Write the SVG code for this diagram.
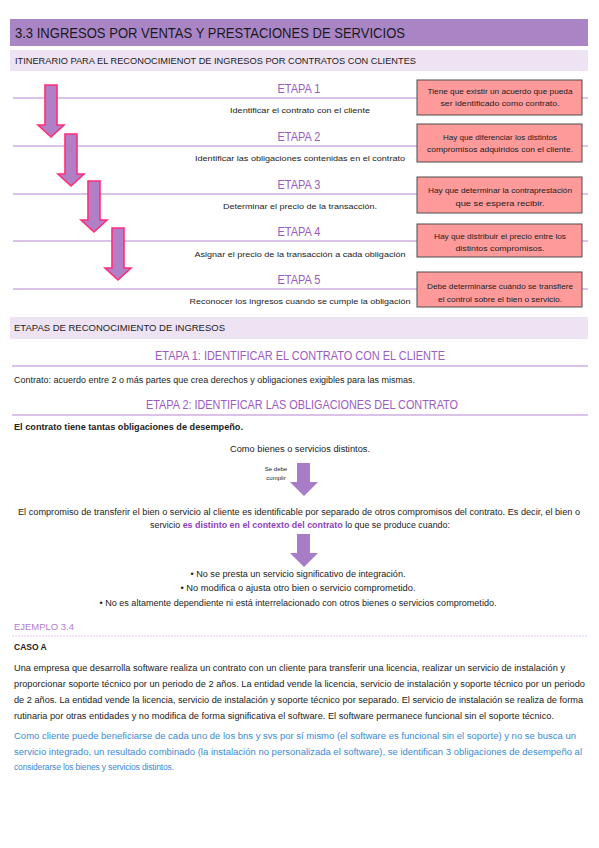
<svg xmlns="http://www.w3.org/2000/svg" width="599" height="848" viewBox="0 0 599 848">
<defs>
<style>
text{font-family:"Liberation Sans",Arial,sans-serif;fill:#222}
.ttl{font-size:15px;fill:#1a1a1a}
.bar{font-size:9px;fill:#222}
.et{font-size:12px;fill:#9a5cbf;text-anchor:middle}
.desc{font-size:8px;text-anchor:middle}
.box rect{fill:#ff9a9a;stroke:#4d4d4d;stroke-width:1}
.box text{font-size:7.5px;text-anchor:middle;fill:#222}
.rule{stroke:#cfaee2;stroke-width:1.5}
.arr{fill:#b07fc6;stroke:#ff2d78;stroke-width:1.6;stroke-linejoin:miter}
.sarr{fill:#a97cc8}
.h2{font-size:12px;fill:#9a5cbf;text-anchor:middle}
.p{font-size:8.5px}
.c{font-size:8.5px;text-anchor:middle}
.b{font-weight:bold}
.blue{fill:#3a8ad4}
</style>
</defs>
<rect width="599" height="848" fill="#ffffff"/>

<!-- Header -->
<g id="header">
<rect x="10" y="19" width="578" height="27" fill="#a985c6"/>
<text class="ttl" x="15" y="38" textLength="390" lengthAdjust="spacingAndGlyphs">3.3 INGRESOS POR VENTAS Y PRESTACIONES DE SERVICIOS</text>
</g>
<g id="subheader">
<rect x="10" y="50" width="578" height="21" fill="#ede3f3"/>
<text class="bar" x="15" y="64" textLength="401" lengthAdjust="spacingAndGlyphs">ITINERARIO PARA EL RECONOCIMIENOT DE INGRESOS POR CONTRATOS CON CLIENTES</text>
</g>

<!-- Stage rules and arrows -->
<g id="connectors">
<line class="rule" x1="13" y1="98" x2="588" y2="98"/>
<line class="rule" x1="13" y1="146" x2="588" y2="146"/>
<line class="rule" x1="13" y1="194" x2="588" y2="194"/>
<line class="rule" x1="13" y1="241" x2="588" y2="241"/>
<line class="rule" x1="13" y1="289" x2="588" y2="289"/>
<path class="arr" d="M45,85 H57 V125 H64 L51,137 L38,125 H45 Z"/>
<path class="arr" d="M65,134 H77 V174 H84 L71,186 L58,174 H65 Z"/>
<path class="arr" d="M88,181 H100 V220 H107 L94,232 L81,220 H88 Z"/>
<path class="arr" d="M112,228 H124 V268 H131 L118,280 L105,268 H112 Z"/>
<path class="sarr" d="M297,463 H310 V482 H318 L304,496 L290,482 H297 Z"/>
<path class="sarr" d="M297,534 H310 V553 H318 L304,567 L290,553 H297 Z"/>
</g>

<g id="etapa1">
<text class="et" x="299" y="93" textLength="43" lengthAdjust="spacingAndGlyphs">ETAPA 1</text>
<text class="desc" x="300" y="113" textLength="140" lengthAdjust="spacingAndGlyphs">Identificar el contrato con el cliente</text>
</g>
<g id="etapa2">
<text class="et" x="299" y="141" textLength="43" lengthAdjust="spacingAndGlyphs">ETAPA 2</text>
<text class="desc" x="300" y="161" textLength="210" lengthAdjust="spacingAndGlyphs">Identificar las obligaciones contenidas en el contrato</text>
</g>
<g id="etapa3">
<text class="et" x="299" y="189" textLength="43" lengthAdjust="spacingAndGlyphs">ETAPA 3</text>
<text class="desc" x="300" y="209" textLength="154" lengthAdjust="spacingAndGlyphs">Determinar el precio de la transacción.</text>
</g>
<g id="etapa4">
<text class="et" x="299" y="236" textLength="43" lengthAdjust="spacingAndGlyphs">ETAPA 4</text>
<text class="desc" x="300" y="257" textLength="211" lengthAdjust="spacingAndGlyphs">Asignar el precio de la transacción a cada obligación</text>
</g>
<g id="etapa5">
<text class="et" x="299" y="284" textLength="43" lengthAdjust="spacingAndGlyphs">ETAPA 5</text>
<text class="desc" x="300" y="304" textLength="221" lengthAdjust="spacingAndGlyphs">Reconocer los ingresos cuando se cumple la obligación</text>
</g>

<g id="box1" class="box">
<rect x="417" y="80" width="165" height="35"/>
<text x="500" y="94" textLength="145" lengthAdjust="spacingAndGlyphs">Tiene que existir un acuerdo que pueda</text>
<text x="500" y="106" textLength="119" lengthAdjust="spacingAndGlyphs">ser identificado como contrato.</text>
</g>
<g id="box2" class="box">
<rect x="417" y="124" width="165" height="38"/>
<text x="500" y="140" textLength="114" lengthAdjust="spacingAndGlyphs">Hay que diferenciar los distintos</text>
<text x="500" y="152" textLength="146" lengthAdjust="spacingAndGlyphs">compromisos adquiridos con el cliente.</text>
</g>
<g id="box3" class="box">
<rect x="417" y="177" width="165" height="36"/>
<text x="500" y="193" textLength="144" lengthAdjust="spacingAndGlyphs">Hay que determinar la contraprestación</text>
<text x="500" y="206" textLength="89" lengthAdjust="spacingAndGlyphs">que se espera recibir.</text>
</g>
<g id="box4" class="box">
<rect x="417" y="224" width="165" height="33"/>
<text x="500" y="239" textLength="132" lengthAdjust="spacingAndGlyphs">Hay que distribuir el precio entre los</text>
<text x="500" y="251" textLength="89" lengthAdjust="spacingAndGlyphs">distintos compromisos.</text>
</g>
<g id="box5" class="box">
<rect x="417" y="272" width="165" height="35"/>
<text x="500" y="289" textLength="146" lengthAdjust="spacingAndGlyphs">Debe determinarse cuándo se transfiere</text>
<text x="500" y="302" textLength="124" lengthAdjust="spacingAndGlyphs">el control sobre el bien o servicio.</text>
</g>

<!-- Section 2 -->
<g id="section2">
<rect x="10" y="317" width="578" height="22" fill="#ede3f3"/>
<text class="bar" x="14" y="331" textLength="211" lengthAdjust="spacingAndGlyphs">ETAPAS DE RECONOCIMIENTO DE INGRESOS</text>
<text class="h2" x="300" y="360" textLength="290" lengthAdjust="spacingAndGlyphs">ETAPA 1: IDENTIFICAR EL CONTRATO CON EL CLIENTE</text>
<line class="rule" x1="12" y1="366" x2="588" y2="366"/>
<text class="p" x="14" y="383" textLength="401" lengthAdjust="spacingAndGlyphs">Contrato: acuerdo entre 2 o más partes que crea derechos y obligaciones exigibles para las mismas.</text>
<text class="h2" x="302" y="409" textLength="312" lengthAdjust="spacingAndGlyphs">ETAPA 2: IDENTIFICAR LAS OBLIGACIONES DEL CONTRATO</text>
<line class="rule" x1="12" y1="415" x2="588" y2="415"/>
<text class="p b" x="14" y="430" textLength="229" lengthAdjust="spacingAndGlyphs">El contrato tiene tantas obligaciones de desempeño.</text>
<text class="c" x="300" y="452" textLength="140" lengthAdjust="spacingAndGlyphs">Como bienes o servicios distintos.</text>
<text x="276" y="471" font-size="6" text-anchor="middle">Se debe</text>
<text x="276" y="480" font-size="6" text-anchor="middle">cumplir</text>
<text class="c" x="299" y="515" textLength="562" lengthAdjust="spacingAndGlyphs">El compromiso de transferir el bien o servicio al cliente es identificable por separado de otros compromisos del contrato. Es decir, el bien o</text>
<text class="c" x="300" y="528" textLength="300" lengthAdjust="spacingAndGlyphs">servicio <tspan class="b" style="fill:#8e3fb8">es distinto en el contexto del contrato</tspan> lo que se produce cuando:</text>
<text class="c" x="298" y="577" textLength="215" lengthAdjust="spacingAndGlyphs">• No se presta un servicio significativo de integración.</text>
<text class="c" x="298" y="591" textLength="235" lengthAdjust="spacingAndGlyphs">• No modifica o ajusta otro bien o servicio comprometido.</text>
<text class="c" x="298" y="606" textLength="397" lengthAdjust="spacingAndGlyphs">• No es altamente dependiente ni está interrelacionado con otros bienes o servicios comprometido.</text>
</g>

<g id="ejemplo">
<text x="14" y="630" font-size="8.5" style="fill:#b07ccf" textLength="60" lengthAdjust="spacingAndGlyphs">EJEMPLO 3.4</text>
<line x1="12" y1="636" x2="588" y2="636" stroke="#e2cdee" stroke-width="1" stroke-dasharray="2 1"/>
<text class="p b" x="14" y="650">CASO A</text>
<text class="p" x="14" y="671" textLength="551" lengthAdjust="spacingAndGlyphs">Una empresa que desarrolla software realiza un contrato con un cliente para transferir una licencia, realizar un servicio de instalación y</text>
<text class="p" x="14" y="687" textLength="571" lengthAdjust="spacingAndGlyphs">proporcionar soporte técnico por un periodo de 2 años. La entidad vende la licencia, servicio de instalación y soporte técnico por un periodo</text>
<text class="p" x="14" y="703" textLength="569" lengthAdjust="spacingAndGlyphs">de 2 años. La entidad vende la licencia, servicio de instalación y soporte técnico por separado. El servicio de instalación se realiza de forma</text>
<text class="p" x="14" y="719" textLength="540" lengthAdjust="spacingAndGlyphs">rutinaria por otras entidades y no modifica de forma significativa el software. El software permanece funcional sin el soporte técnico.</text>
<text class="p blue" x="14" y="739" textLength="562" lengthAdjust="spacingAndGlyphs">Como cliente puede beneficiarse de cada uno de los bns y svs por sí mismo (el software es funcional sin el soporte) y no se busca un</text>
<text class="p blue" x="14" y="755" textLength="568" lengthAdjust="spacingAndGlyphs">servicio integrado, un resultado combinado (la instalación no personalizada el software), se identifican 3 obligaciones de desempeño al</text>
<text class="p blue" x="14" y="770" textLength="160" lengthAdjust="spacing">considerarse los bienes y servicios distintos.</text>
</g>
</svg>
